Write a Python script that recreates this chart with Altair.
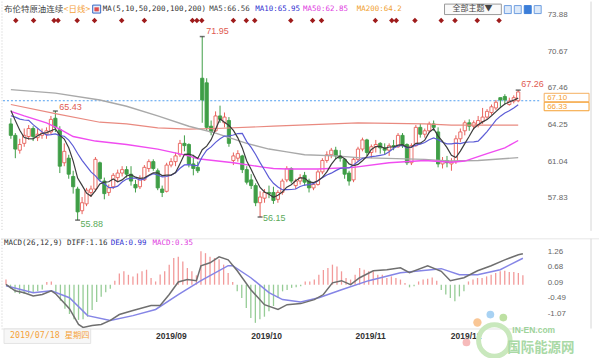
import altair as alt
import pandas as pd

# ---------------- data ----------------
# daily candles, 2019-07-17 .. 2019-12-24 (index 0..114)
opens = [
    64.3, 63.3, 62.0, 62.6, 63.2, 63.9, 63.1, 63.3, 63.4, 63.6,
    64.8, 63.8, 60.9, 61.3, 59.7, 58.6, 56.7, 57.3, 58.3, 58.6,
    60.9, 59.3, 58.3, 58.8, 59.6, 60.0, 60.3, 59.9, 59.0, 58.8,
    59.4, 60.4, 61.0, 60.2, 58.6, 58.4, 60.7, 61.0, 61.6, 62.6,
    62.5, 60.8, 60.5, 68.3, 67.9, 64.1, 63.7, 65.0, 64.4, 64.6,
    61.1, 61.3, 61.5, 60.3, 59.4, 58.9, 57.4, 57.8, 58.3, 58.3,
    57.7, 58.3, 59.4, 60.4, 58.9, 59.3, 59.8, 59.3, 58.7, 59.0,
    60.1, 61.1, 61.6, 62.0, 61.5, 61.2, 60.0, 59.4, 61.2, 62.1,
    62.9, 61.8, 62.3, 62.6, 62.2, 62.0, 62.4, 62.3, 63.3, 62.5,
    60.9, 62.4, 64.0, 63.4, 63.7, 64.3, 63.6, 60.8, 61.1, 60.8,
    61.0, 63.0, 63.7, 64.4, 64.1, 64.2, 64.5, 64.9, 65.3, 65.7,
    66.6, 66.7, 66.0, 66.3, 66.33]
highs = [
    64.8, 63.5, 63.0, 63.9, 64.2, 64.1, 63.9, 63.9, 64.0, 65.0,
    65.43, 64.1, 62.6, 61.6, 60.2, 58.8, 57.9, 58.7, 58.9, 61.4,
    61.0, 59.6, 59.0, 60.0, 60.3, 60.6, 60.6, 60.6, 59.4, 59.8,
    60.7, 61.2, 61.2, 60.4, 58.9, 60.9, 61.3, 61.8, 62.9, 63.3,
    62.6, 61.6, 61.0, 71.95, 68.3, 64.6, 65.4, 65.9, 65.3, 64.9,
    61.8, 62.0, 61.6, 60.6, 59.9, 59.1, 58.4, 58.6, 58.9, 58.8,
    58.5, 59.5, 60.6, 60.5, 59.5, 59.9, 60.1, 59.5, 59.2, 60.3,
    61.3, 61.9, 62.2, 62.3, 62.0, 61.3, 60.2, 61.4, 62.3, 63.1,
    63.0, 62.5, 62.9, 62.7, 62.6, 62.6, 62.9, 63.5, 63.5, 62.6,
    62.6, 64.2, 64.3, 63.9, 64.5, 64.6, 64.0, 61.4, 61.5, 61.3,
    63.3, 63.9, 64.6, 64.7, 64.6, 65.0, 65.7, 65.6, 66.0, 66.4,
    66.6, 66.9, 66.6, 66.8, 67.26]
lows = [
    63.0, 61.3, 61.7, 62.3, 62.9, 62.8, 62.8, 63.0, 63.0, 63.4,
    63.6, 60.0, 60.6, 59.5, 58.2, 55.88, 56.4, 57.1, 57.9, 58.4,
    59.3, 57.7, 58.0, 58.6, 59.2, 59.7, 59.6, 58.9, 58.3, 58.6,
    59.3, 60.1, 60.2, 58.5, 57.9, 58.3, 60.5, 60.6, 61.4, 61.9,
    60.5, 59.8, 60.0, 64.4, 63.7, 63.3, 63.6, 64.4, 64.0, 62.3,
    60.7, 61.0, 60.0, 59.0, 58.6, 57.1, 56.15, 57.4, 57.8, 57.3,
    57.4, 58.1, 59.2, 59.1, 58.6, 59.0, 58.9, 58.3, 58.5, 58.9,
    59.9, 60.9, 61.3, 61.2, 61.0, 59.5, 58.9, 59.2, 61.0, 61.9,
    61.5, 61.3, 61.8, 61.7, 61.6, 61.5, 62.0, 62.2, 62.2, 60.7,
    60.7, 62.3, 63.1, 63.1, 63.5, 63.7, 60.5, 60.4, 60.5, 60.2,
    60.8, 62.7, 63.3, 63.7, 63.8, 64.0, 64.3, 64.7, 65.1, 65.5,
    65.8, 66.0, 65.9, 66.1, 66.2]
closes = [
    63.3, 62.1, 62.5, 63.3, 63.9, 63.2, 63.4, 63.5, 63.7, 64.7,
    64.0, 60.6, 61.9, 59.9, 58.8, 56.6, 57.4, 58.5, 58.6, 61.2,
    59.5, 58.2, 58.7, 59.8, 60.0, 60.3, 59.9, 59.3, 58.7, 59.5,
    60.5, 61.0, 60.4, 58.7, 58.3, 60.7, 61.0, 61.5, 62.6, 62.4,
    60.8, 60.4, 60.2, 66.4, 64.0, 63.6, 65.0, 64.7, 64.9, 62.6,
    61.5, 61.7, 60.3, 59.2, 58.9, 57.4, 57.9, 58.3, 58.2, 57.6,
    58.3, 59.3, 60.4, 59.3, 59.3, 59.6, 59.2, 58.7, 59.0, 60.1,
    61.1, 61.6, 62.0, 61.5, 61.3, 59.9, 59.3, 61.2, 62.1, 62.9,
    61.8, 62.3, 62.5, 62.2, 62.0, 62.4, 62.3, 63.3, 62.4, 60.9,
    62.4, 64.0, 63.4, 63.7, 64.3, 64.0, 60.8, 61.1, 60.9, 61.0,
    63.0, 63.6, 64.4, 64.1, 64.4, 64.6, 64.9, 65.4, 65.8, 66.2,
    66.4, 66.4, 66.3, 66.6, 67.10]
# closes of the 9 sessions before the first candle (MA5/MA10 warm-up)
prior_closes = [63.30, 64.23, 64.11, 64.16, 67.01, 66.52, 66.72, 66.48, 64.35]

# long moving averages, read at sample points (index, value)
ma50_idx = [0, 3, 8, 11, 14, 19, 26, 33, 40, 42, 50, 57, 59, 62, 69, 77, 85, 93, 99, 102, 107, 111, 114]
ma50_val = [65.4, 65.0, 64.4, 63.85, 63.2, 62.8, 62.5, 62.1, 61.5, 61.25, 60.9, 60.5, 60.4, 60.35,
            60.35, 60.5, 60.9, 61.1, 60.95, 61.05, 61.7, 62.2, 62.85]
ma100_idx = [0, 10, 20, 26, 33, 40, 46, 53, 58, 62, 66, 73, 78, 93, 98, 105, 114]
ma100_val = [67.3, 67.0, 66.4, 65.85, 65.0, 64.1, 63.5, 62.6, 62.1, 61.85, 61.6, 61.5, 61.35, 61.2,
             61.05, 61.1, 61.35]
ma200_idx = [0, 10, 20, 26, 33, 40, 46, 59, 78, 93, 99, 114]
ma200_val = [66.0, 65.2, 64.45, 64.3, 63.95, 63.85, 63.9, 64.1, 64.4, 64.3, 64.2, 64.2]

# MACD(26,12,9)
diff_idx = [0, 2, 4, 6, 8, 10, 11, 14, 16, 17, 19, 21, 23, 25, 28, 32, 34, 36, 38, 40, 42, 43, 45,
            47, 49, 51, 54, 57, 60, 62, 65, 68, 70, 72, 74, 76, 78, 81, 84, 87, 89, 93, 96, 98,
            101, 104, 107, 110, 113, 114]
diff_val = [0.01, -0.23, -0.30, -0.42, -0.37, -0.23, -0.35, -0.90, -1.49, -1.60, -1.53, -1.49,
            -1.34, -1.12, -0.97, -0.78, -0.78, -0.37, 0.10, 0.19, 0.15, 0.71, 0.82, 1.04, 0.93,
            0.52, -0.19, -0.75, -0.93, -0.75, -0.71, -0.56, -0.37, 0.07, 0.15, 0.00, 0.26, 0.52,
            0.56, 0.63, 0.45, 0.71, 0.50, 0.15, 0.26, 0.52, 0.71, 0.93, 1.12, 1.16]
dea_idx = [0, 6, 10, 14, 18, 23, 28, 33, 38, 43, 49, 50, 54, 58, 61, 65, 69, 74, 80, 87, 96, 100,
           104, 109, 114]
dea_val = [-0.04, -0.30, -0.23, -0.49, -1.16, -1.34, -1.16, -0.93, -0.37, 0.15, 0.71, 0.71, 0.26,
           -0.30, -0.56, -0.65, -0.49, -0.19, 0.15, 0.45, 0.60, 0.37, 0.37, 0.56, 0.99]
macd_hist = [
    0.19, -0.15, -0.30, -0.35, -0.35, -0.32, -0.30, -0.25, -0.18, 0.10,
    0.12, -0.30, -0.60, -0.90, -1.10, -1.30, -1.32, -1.30, -1.20, -0.95,
    -0.65, -0.45, -0.28, -0.15, 0.15, 0.42, 0.50, 0.37, 0.31, 0.42,
    0.50, 0.56, 0.25, 0.12, 0.38, 0.50, 0.75, 1.00, 1.05, 0.87,
    0.62, 0.50, 0.35, 1.25, 1.18, 1.05, 1.00, 0.95, 0.75, 0.44,
    0.10, -0.25, -0.50, -0.87, -1.25, -1.43, -1.30, -1.20, -1.00, -0.80,
    -0.50, -0.25, -0.20, -0.12, -0.10, -0.06, 0.12, 0.12, 0.19, 0.37,
    0.55, 0.62, 0.75, 0.68, 0.50, 0.25, 0.19, 0.37, 0.62, 0.56,
    0.50, 0.50, 0.37, 0.37, 0.25, 0.31, 0.25, 0.19, 0.06, -0.10,
    -0.06, 0.12, 0.19, 0.22, 0.27, 0.15, -0.20, -0.37, -0.50, -0.62,
    -0.44, -0.25, 0.12, 0.19, 0.25, 0.25, 0.31, 0.37, 0.44, 0.50,
    0.52, 0.47, 0.47, 0.44, 0.35]

# news markers along the top (session index)
event_idx = [1.1, 5.1, 9.7, 10.6, 14.9, 18.8, 24.9, 30.0, 40.8, 41.8, 42.9, 50.0, 52.9, 54.8,
             62.9, 67.8, 69.8, 81.9, 85.6, 86.6, 90.8, 96.7, 99.8, 104.8, 109.7]

month_tick_idx = [33, 54, 77, 98]
month_tick_labels = ["2019/09", "2019/10", "2019/11", "2019/12"]
price_ticks = [73.88, 70.67, 67.46, 64.25, 61.04, 57.83]
macd_ticks = [1.26, 0.68, 0.09, -0.49, -1.07]
high_marks = [(43, 71.95), (10, 65.43), (114, 67.26)]
low_marks = [(15, 55.88), (56, 56.15)]
last_price_line = 66.33
right_tags = ["67.10", "66.33"]

# ---------------- styling ----------------
RED, GREEN = "#e8605a", "#3f9e46"
HRED, HGREEN = "#f29a9a", "#96cc96"
MONO = "DejaVu Sans Mono"
CJK = "Noto Sans CJK SC"
AXF = "Liberation Sans"
W, H_TOP, H_BOT = 540, 230, 90

n = len(closes)
assert len(opens) == len(highs) == len(lows) == n == len(macd_hist)
idx = list(range(n))
ext = pd.Series(prior_closes + closes, dtype=float)
k = len(prior_closes)
ma5 = ext.rolling(5).mean().iloc[k:].round(3).tolist()
ma10 = ext.rolling(10).mean().iloc[k:].round(3).tolist()

candles = pd.DataFrame({"i": idx, "o": opens, "h": highs, "l": lows, "c": closes,
                        "ma5": ma5, "ma10": ma10})
candles["dir"] = ["up" if c >= o else "down" for o, c in zip(opens, closes)]
candles["top"] = [max(o, c) for o, c in zip(opens, closes)]
candles["bot"] = [min(o, c) for o, c in zip(opens, closes)]

hist = pd.DataFrame({"i": idx, "v": macd_hist, "zero": 0.0,
                     "dir": ["up" if v >= 0 else "down" for v in macd_hist]})

xs = alt.Scale(domain=[-1.1, 117.6], nice=False, zero=False)
ys = alt.Scale(domain=[54.94, 75.01], nice=False, zero=False)
ms = alt.Scale(domain=[-1.643, 1.718], nice=False, zero=False)
stroke_s = alt.Scale(domain=["up", "down"], range=[RED, GREEN])
fill_s = alt.Scale(domain=["up", "down"], range=["#ffffff", GREEN])
hist_s = alt.Scale(domain=["up", "down"], range=[HRED, HGREEN])

minus_fix = "replace(format(datum.value, '.2f'), '\u2212', '-')"
price_axis = alt.Axis(orient="right", values=price_ticks, labelExpr=minus_fix, labelAlign="left",
                      labelPadding=8, ticks=False, domain=False, grid=False, labelFont=AXF,
                      labelFontSize=8, labelColor="#666666", title=None)
macd_axis = alt.Axis(orient="right", values=macd_ticks, labelExpr=minus_fix, labelAlign="left",
                     labelPadding=8, ticks=False, domain=False, grid=False, labelFont=AXF,
                     labelFontSize=8, labelColor="#666666", title=None)
date_expr = " : ".join(f"datum.value == {i} ? '{s}'" for i, s in zip(month_tick_idx, month_tick_labels)) + " : ''"
date_axis = alt.Axis(orient="bottom", values=month_tick_idx, labelExpr=date_expr, labelAlign="left",
                     labelBaseline="top", labelPadding=3, ticks=False, domain=True,
                     domainColor="#e2e2e2", grid=False, labelFont=AXF, labelFontSize=8.5,
                     labelFontWeight="bold", labelColor="#333333", title=None)


def XT(f="i:Q"):
    return alt.X(f, scale=xs, axis=None)


def XB(f="i:Q"):
    return alt.X(f, scale=xs, axis=date_axis)


def PY(f):
    return alt.Y(f, scale=ys, axis=price_axis)


def MY(f):
    return alt.Y(f, scale=ms, axis=macd_axis)


def one():
    return alt.Chart(pd.DataFrame({"a": [0]}))


def txt(s, x, y, color="#333333", size=7.5, font=MONO, weight="normal", align="left"):
    return alt.Chart(pd.DataFrame({"t": [s]})).mark_text(
        align=align, baseline="middle", color=color, fontSize=size, font=font,
        fontWeight=weight).encode(x=alt.value(x), y=alt.value(y), text="t:N")


def box(x1, x2, y1, y2, fill, stroke, sw=1.0):
    return one().mark_rect(fill=fill, stroke=stroke, strokeWidth=sw).encode(
        x=alt.value(x1), x2=alt.value(x2), y=alt.value(y1), y2=alt.value(y2))


def vline(x, y1, y2, color, dash=None):
    kw = {"strokeDash": dash} if dash else {}
    return one().mark_rule(color=color, strokeWidth=1, **kw).encode(
        x=alt.value(x), y=alt.value(y1), y2=alt.value(y2))


base = alt.Chart(candles)

# ---------------- price panel ----------------
top_layers = [
    vline(1, 0, H_TOP, "#cccccc", [1, 2]),
    vline(592, 0, H_TOP, "#d6d6d6"),
    alt.Chart(pd.DataFrame({"p": [last_price_line]})).mark_rule(
        color="#4f9ef0", strokeDash=[2, 2], strokeWidth=1).encode(y=PY("p:Q")),
    base.mark_rule(strokeWidth=1).encode(
        x=XT(), y=PY("l:Q"), y2="h:Q",
        color=alt.Color("dir:N", scale=stroke_s, legend=None)),
    base.mark_bar(size=3.2, strokeWidth=0.9).encode(
        x=XT(), y=PY("bot:Q"), y2="top:Q",
        fill=alt.Fill("dir:N", scale=fill_s, legend=None),
        stroke=alt.Stroke("dir:N", scale=stroke_s, legend=None)),
]
for li, lv, col, sw in [(ma200_idx, ma200_val, "#e98a80", 1.2),
                        (ma100_idx, ma100_val, "#a9a9a9", 1.4),
                        (ma50_idx, ma50_val, "#f04cf0", 1.4)]:
    top_layers.append(alt.Chart(pd.DataFrame({"i": li, "v": lv})).mark_line(
        color=col, strokeWidth=sw).encode(x=XT(), y=PY("v:Q")))
top_layers += [
    base.mark_line(color="#5c5cd6", strokeWidth=1.2).encode(x=XT(), y=PY("ma10:Q")),
    base.mark_line(color="#3c3c3c", strokeWidth=1.2).encode(x=XT(), y=PY("ma5:Q")),
]
# extreme markers and labels
ext_df = pd.DataFrame({"i": [m[0] for m in high_marks + low_marks],
                       "p": [m[1] for m in high_marks + low_marks]})
top_layers.append(alt.Chart(ext_df).mark_tick(orient="horizontal", color="#333333", size=5,
                                              thickness=1.5).encode(x=XT(), y=PY("p:Q")))
for (i, p), dx, dy in zip(high_marks, [4, 4, 3], [-6, -4, -6]):
    top_layers.append(alt.Chart(pd.DataFrame({"i": [i], "p": [p], "t": [f"{p:.2f}"]})).mark_text(
        align="left", baseline="middle", color="#e05a50", fontSize=9, font=AXF, dx=dx, dy=dy
    ).encode(x=XT(), y=PY("p:Q"), text="t:N"))
for (i, p), dx, dy in zip(low_marks, [3, 3], [4, 1]):
    top_layers.append(alt.Chart(pd.DataFrame({"i": [i], "p": [p], "t": [f"{p:.2f}"]})).mark_text(
        align="left", baseline="middle", color="#5aaa5a", fontSize=9, font=AXF, dx=dx, dy=dy
    ).encode(x=XT(), y=PY("p:Q"), text="t:N"))
# event diamonds
top_layers.append(alt.Chart(pd.DataFrame({"i": event_idx})).mark_point(
    shape="diamond", filled=True, size=30, color="#9e1b1b", opacity=1).encode(
    x=XT(), y=alt.value(19)))
# header
top_layers += [
    txt("布伦特原油连续", 3, 7.5, "#444444", 8.5, CJK),
    txt("<日线>", 63, 7.5, "#f4a23c", 8.5, CJK),
    box(92, 100, 3.5, 11.5, "#e6eefa", "#3566c4"),
    box(94, 98, 6, 9.5, "#e05050", "#e05050", 0.5),
    txt("MA(5,10,50,200,100,200)", 102, 7.5, "#333333"),
    txt("MA5:66.56", 209, 7.5, "#444444"),
    txt("MA10:65.95", 255, 7.5, "#3030d0"),
    txt("MA50:62.85", 303, 7.5, "#e040e0"),
    txt("MA200:64.2", 357, 7.5, "#f0a030"),
    box(445, 502, 2.5, 13, "#fafafa", "#9a9a9a"),
    txt("全部主题▼", 473, 7.8, "#444444", 8, CJK, align="center"),
    box(505, 512, 4, 12, "#dce9f9", "#6f9fe0"),
    box(515, 522, 4, 12, "#dce9f9", "#6f9fe0"),
    box(525, 532, 4, 12, "#3b7dd8", "#3b7dd8"),
    box(535, 542, 4, 12, "#dce9f9", "#6f9fe0"),
    box(545, 590, 92, 100.5, "#ffffff", "#f5b060"),
    box(545, 590, 101, 109.5, "#ffffff", "#f5a030"),
    txt(right_tags[0], 548, 96.5, "#f5a030", 8, AXF),
    txt(right_tags[1], 548, 105.5, "#f5a030", 8, AXF),
]
top = alt.layer(*top_layers).properties(width=W, height=H_TOP)

# ---------------- MACD panel ----------------
hb = alt.Chart(hist)
bot_layers = [
    one().mark_rule(color="#e6e6e6", strokeWidth=1).encode(
        x=alt.value(0), x2=alt.value(600), y=alt.value(0)),
    vline(1, 0, H_BOT, "#cccccc", [1, 2]),
    vline(592, 0, H_BOT, "#d6d6d6"),
    hb.mark_rule(strokeWidth=1.3).encode(
        x=XB(), y=MY("v:Q"), y2="zero:Q",
        color=alt.Color("dir:N", scale=hist_s, legend=None)),
    alt.Chart(pd.DataFrame({"i": dea_idx, "v": dea_val})).mark_line(
        color="#8585e6", strokeWidth=1.5).encode(x=XB(), y=MY("v:Q")),
    alt.Chart(pd.DataFrame({"i": diff_idx, "v": diff_val})).mark_line(
        color="#6f6f6f", strokeWidth=1.5).encode(x=XB(), y=MY("v:Q")),
    txt("MACD(26,12,9) DIFF:1.16", 3, 4.5, "#333333"),
    txt("DEA:0.99", 110, 4.5, "#3030d0"),
    txt("MACD:0.35", 152, 4.5, "#e040e0"),
    box(3, 90, 90.5, 105, "#f7f7f7", "#e4e4e4"),
    txt("2019/07/18 星期四", 9, 97.5, "#f5a33a", 8.3, f"{MONO}, {CJK}"),
    # watermark
    one().mark_point(shape="circle", filled=False, size=1000, strokeWidth=5,
                     color="#c9e8bd", opacity=1).encode(x=alt.value(495), y=alt.value(102)),
    one().mark_point(shape="circle", filled=True, size=70, color="#f8c08a", opacity=0.9).encode(
        x=alt.value(478), y=alt.value(84)),
    one().mark_point(shape="circle", filled=True, size=60, color="#9fcdf2", opacity=0.9).encode(
        x=alt.value(491), y=alt.value(76)),
    one().mark_point(shape="circle", filled=True, size=60, color="#b6dd98", opacity=0.9).encode(
        x=alt.value(504), y=alt.value(79)),
    one().mark_point(shape="circle", filled=True, size=60, color="#f5b3b3", opacity=0.9).encode(
        x=alt.value(467), y=alt.value(104)),
    txt("IN-EN.com", 513, 91, "#9ed39a", 8.5, AXF, "bold"),
    txt("国际能源网", 508, 109.5, "#a9d9a5", 13.5, CJK, "bold"),
]
bottom = alt.layer(*bot_layers).properties(width=W, height=H_BOT)

chart = alt.vconcat(top, bottom, spacing=6).resolve_scale(
    y="independent", color="independent"
).properties(padding=0, background="white").configure_view(stroke=None)

chart.save("out.html", embed_options={"renderer": "svg", "actions": False})
